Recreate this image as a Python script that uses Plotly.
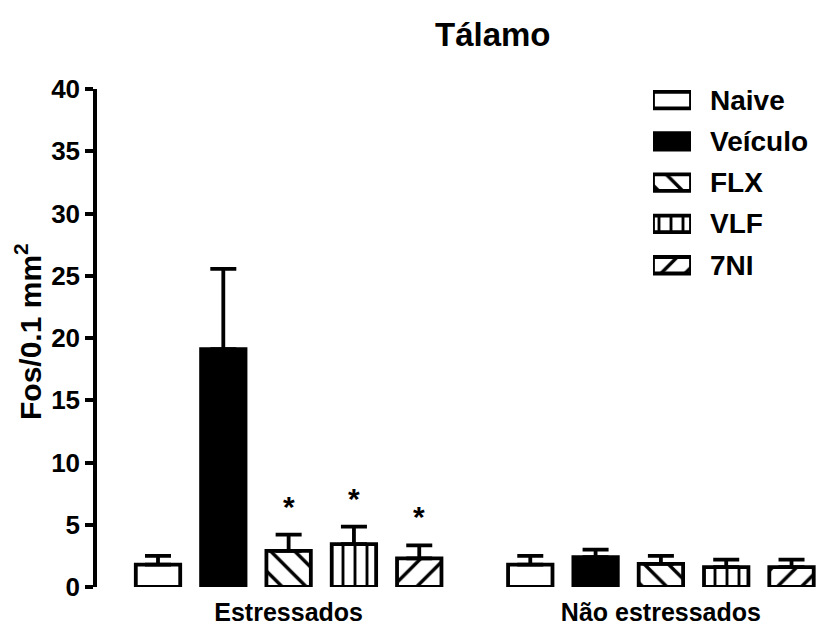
import plotly.graph_objects as go

# Fos-positive cells per 0.1 mm² in the thalamus (mean and SEM)
groups = ["Estressados", "Não estressados"]
treatments = ["Naive", "Veículo", "FLX", "VLF", "7NI"]
stressed_mean = [1.8, 19.1, 2.9, 3.45, 2.3]
stressed_sem = [0.7, 6.45, 1.3, 1.4, 1.05]
unstressed_mean = [1.8, 2.4, 1.85, 1.6, 1.6]
unstressed_sem = [0.7, 0.6, 0.65, 0.6, 0.6]
stressed_sig = [False, False, True, True, True]
y_ticks = [0, 5, 10, 15, 20, 25, 30, 35, 40]

# fill styles per treatment: (fill colour, pattern shape)
styles = {
    "Naive": ("white", ""),
    "Veículo": ("black", ""),
    "FLX": ("white", "\\"),
    "VLF": ("white", "|"),
    "7NI": ("white", "/"),
}
pattern_size = {"": 8, "\\": 17, "/": 17, "|": 12}
pattern_solidity = {"": 0.3, "\\": 0.2, "/": 0.2, "|": 0.24}

GROUP_GAP = 5.7
BAR_W = 0.68
FONT = "Liberation Sans, Arial, sans-serif"


def bold(size):
    return dict(family=FONT, size=size, color="black", weight="bold")


def bar_marker(color, shape):
    return dict(
        color=color,
        line=dict(color="black", width=3.8),
        pattern=dict(shape=shape, fgcolor="black", bgcolor=color,
                     fgopacity=1, size=pattern_size[shape],
                     solidity=pattern_solidity[shape]),
    )


fig = go.Figure()

group_means = [stressed_mean, unstressed_mean]
group_sems = [stressed_sem, unstressed_sem]
for i, t in enumerate(treatments):
    color, shape = styles[t]
    xs = [g * GROUP_GAP + i for g in range(len(groups))]
    ys = [group_means[g][i] for g in range(len(groups))]
    es = [group_sems[g][i] for g in range(len(groups))]
    fig.add_trace(go.Bar(
        x=xs, y=ys, width=BAR_W, name=t, showlegend=False,
        marker=bar_marker(color, shape),
        error_y=dict(type="data", symmetric=False, array=es,
                     arrayminus=[0] * len(es), color="black",
                     thickness=3.8, width=13),
    ))
    # legend swatch on its own hidden axes
    fig.add_trace(go.Bar(
        x=[1], y=[i], base=0, orientation="h", width=0.4,
        xaxis="x2", yaxis="y2", showlegend=False, hoverinfo="skip",
        marker=bar_marker(color, shape),
    ))
    fig.add_annotation(x=1, y=i, xref="x2", yref="y2", text=t,
                       showarrow=False, xanchor="left", xshift=17,
                       font=bold(28))

# significance markers
for i, sig in enumerate(stressed_sig):
    if sig:
        fig.add_annotation(x=i, y=stressed_mean[i] + stressed_sem[i],
                           text="*", showarrow=False, yanchor="bottom",
                           yshift=10, font=bold(30))

group_centers = [g * GROUP_GAP + (len(treatments) - 1) / 2
                 for g in range(len(groups))]

fig.add_annotation(text="Tálamo", xref="paper", yref="paper",
                   x=(493 - 97) / 720, y=(587 - 35) / 498,
                   showarrow=False, xanchor="center", yanchor="middle",
                   font=bold(33))
fig.add_annotation(text="Fos/0.1 mm<sup>2</sup>", xref="paper", yref="paper",
                   x=(28 - 97) / 720, y=(587 - 332) / 498, textangle=-90,
                   showarrow=False, xanchor="center", yanchor="middle",
                   font=bold(30))

fig.update_layout(
    width=817, height=630,
    margin=dict(l=97, r=0, t=89, b=43),
    paper_bgcolor="white", plot_bgcolor="white",
    barmode="overlay",
    xaxis=dict(range=[-0.934, 10.09], showline=False, showgrid=False,
               zeroline=False, ticks="", tickvals=group_centers,
               ticktext=groups, ticklabelstandoff=8,
               tickfont=bold(25)),
    yaxis=dict(range=[0, 40], tickvals=y_ticks, showline=True,
               linecolor="black", linewidth=3.5, ticks="outside",
               ticklen=8, tickwidth=3.5, tickcolor="black",
               showgrid=False, zeroline=False,
               tickfont=bold(26)),
    xaxis2=dict(domain=[(653 - 97) / 720, (691 - 97) / 720], range=[0, 1],
                visible=False, anchor="y2"),
    yaxis2=dict(domain=[(587 - 290) / 498, 1], range=[4.6, -0.27],
                visible=False, anchor="x2"),
)

fig.write_html("out.html")
